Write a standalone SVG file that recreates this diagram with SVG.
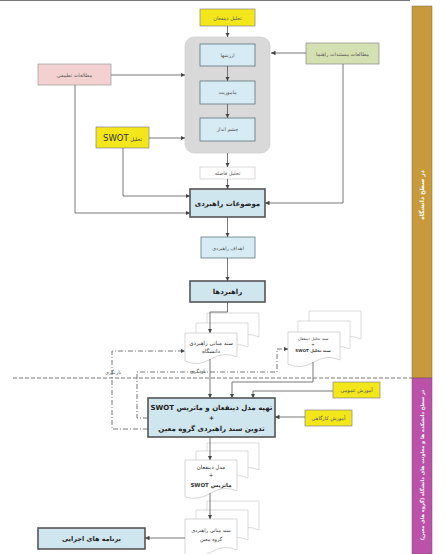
<svg xmlns="http://www.w3.org/2000/svg" width="445" height="554" viewBox="0 0 445 554">
<defs>
<marker id="ar" viewBox="0 0 6 6" refX="6" refY="3" markerWidth="4.5" markerHeight="4.5" orient="auto" markerUnits="userSpaceOnUse"><path d="M0,0 L6,3 L0,6 Z" fill="#444"/></marker>
<style>
text{font-family:"DejaVu Sans","Noto Sans",sans-serif;direction:rtl;text-anchor:middle;fill:#555;font-size:5px}
.b{font-weight:bold;fill:#222;font-size:7px}
.c{fill:none;stroke:#555;stroke-width:0.8}
.dd{fill:none;stroke:#555;stroke-width:0.8;stroke-dasharray:5 2 1 2}
.in{fill:#d6ebf3;stroke:#4d6670;stroke-width:0.7}
.mn{fill:#cfe6ef;stroke:#555;stroke-width:1.6}
.ye{fill:#f3e61a;stroke:#888;stroke-width:0.7}
.pg{fill:#fff;stroke:#ccc;stroke-width:0.7}
.pf{fill:#fff;stroke:#c4c4c4;stroke-width:0.7}
.w{fill:#fff;font-weight:bold;font-size:6px}
</style>
</defs>
<rect width="445" height="554" fill="#fff"/>
<line x1="0" y1="0.5" x2="410" y2="0.5" stroke="#777" stroke-width="1"/>

<g id="bands">
<rect x="412" y="6" width="20" height="372" fill="#c99a3b" stroke="#7a6a40" stroke-width="0.5"/>
<rect x="412" y="378" width="20" height="176" fill="#bb51a9" stroke="#7a4a70" stroke-width="0.5"/>
<text class="w" transform="translate(424,195) rotate(-90)">در سطح دانشگاه</text>
<text class="w" style="font-size:5px" transform="translate(424,465) rotate(-90)">در سطح دانشکده ها و معاونت های دانشگاه (گروه های معین)</text>
</g>

<line x1="13" y1="378" x2="412" y2="378" stroke="#555" stroke-width="0.8" stroke-dasharray="4 2"/>

<g id="n-container"><rect x="185" y="37" width="85" height="116" rx="9" fill="#d9d9d9" stroke="#cfcfcf" stroke-width="0.7"/></g>
<g id="n-stake"><rect class="ye" x="200" y="9" width="55" height="17"/><text x="227.5" y="19.5">تحلیل ذینفعان</text></g>
<g id="n-values"><rect class="in" x="200" y="44" width="55" height="22"/><text x="227.5" y="57">ارزشها</text></g>
<g id="n-mission"><rect class="in" x="200" y="81" width="55" height="23"/><text x="227.5" y="94">ماموریت</text></g>
<g id="n-vision"><rect class="in" x="200" y="118" width="55" height="23"/><text x="227.5" y="131">چشم انداز</text></g>
<g id="n-guide"><rect x="306" y="43" width="73" height="21" fill="#d5e0b2" stroke="#888" stroke-width="0.7"/><text x="342.5" y="55.5">مطالعات مستندات راهنما</text></g>
<g id="n-comp"><rect x="38" y="64" width="73" height="21" fill="#f3d1d1" stroke="#999" stroke-width="0.7"/><text x="74.5" y="76.5">مطالعات تطبیقی</text></g>
<g id="n-swot"><rect class="ye" x="96" y="127" width="53" height="21"/><text x="122.5" y="141" style="fill:#333"><tspan style="font-size:5px">تحلیل </tspan><tspan style="font-size:8.5px">SWOT</tspan></text></g>
<g id="n-gap"><rect x="200" y="167" width="55" height="12" fill="#fff" stroke="#ccc" stroke-width="0.7"/><text x="227.5" y="175">تحلیل فاصله</text></g>
<g id="n-topics"><rect class="mn" x="190" y="189" width="75" height="28"/><text class="b" x="227.5" y="206">موضوعات راهبردی</text></g>
<g id="n-goals"><rect class="in" x="201" y="237" width="54" height="21"/><text x="228" y="249.5">اهداف راهبردی</text></g>
<g id="n-strat"><rect class="mn" x="190" y="281" width="75" height="21"/><text class="b" x="227.5" y="294">راهبردها</text></g>

<g id="n-doc1">
<path class="pg" d="M207,313 H259 V337 Q246,331 233,339 T207,341 Z"/>
<path class="pg" d="M196,323 H248 V347 Q235,341 222,349 T196,351 Z"/>
<path class="pf" d="M185,333 H237 V357 Q224,351 211,359 T185,361 Z"/>
<text x="211" y="345" style="fill:#333;font-size:5.5px">سند مبانی راهبردی</text>
<text x="211" y="353" style="fill:#333;font-size:5.5px">دانشگاه</text>
</g>
<g id="n-doc2">
<path class="pg" d="M309,311 H361 V339 Q348,333 335,341 T309,343 Z"/>
<path class="pg" d="M298,321 H350 V349 Q337,343 324,351 T298,353 Z"/>
<path class="pf" d="M288,332 H340 V360 Q327,354 314,362 T288,364 Z"/>
<text x="313" y="340" style="fill:#333;font-size:4px">سند تحلیل ذینفعان</text>
<text x="313" y="345.5" style="fill:#333;font-size:4px">+</text>
<text x="313" y="352" style="fill:#333;font-size:4px;font-weight:bold">سند تحلیل SWOT</text>
</g>

<g id="n-gen"><rect x="333" y="382" width="47" height="16" fill="#f3e61a" stroke="#888" stroke-width="0.7"/><text x="356.5" y="392">آموزش عمومی</text></g>
<g id="n-work"><rect x="305" y="410" width="47" height="16" fill="#f3e61a" stroke="#888" stroke-width="0.7"/><text x="328.5" y="420">آموزش کارگاهی</text></g>
<g id="n-prep"><rect class="mn" x="148" y="398" width="127" height="39"/>
<text class="b" x="211.5" y="409.5">تهیه مدل ذینفعان و ماتریس SWOT</text>
<text class="b" x="211.5" y="419.5" style="font-size:6px">+</text>
<text class="b" x="211.5" y="431">تدوین سند راهبردی گروه معین</text></g>

<g id="n-doc3">
<path class="pg" d="M207,443 H259 V470 Q246,464 233,472 T207,474 Z"/>
<path class="pg" d="M196,451 H248 V478 Q235,472 222,480 T196,482 Z"/>
<path class="pf" d="M185,460 H237 V491 Q224,485 211,493 T185,497 Z"/>
<text x="211" y="469" style="fill:#333;font-size:5.5px">مدل ذینفعان</text>
<text x="211" y="477" style="fill:#333;font-size:5.5px">+</text>
<text x="211" y="487" style="fill:#333;font-size:5.5px;font-weight:bold">ماتریس SWOT</text>
</g>
<g id="n-doc4">
<path class="pg" d="M207,501 H259 V530 Q246,524 233,532 T207,534 Z"/>
<path class="pg" d="M196,510 H248 V540 Q235,534 222,542 T196,544 Z"/>
<path class="pf" d="M185,519 H237 V550 Q224,544 211,552 T185,556 Z"/>
<text x="211" y="532" style="fill:#333;font-size:5px">سند مبانی راهبردی</text>
<text x="211" y="541" style="fill:#333;font-size:5px">گروه معین</text>
</g>
<g id="n-prog"><rect class="mn" x="38" y="528" width="107" height="21"/><text class="b" x="91.5" y="541" style="font-size:6.5px">برنامه های اجرایی</text></g>

<g id="connectors">
<path class="c" marker-end="url(#ar)" d="M227.5,26 V37"/>
<path class="c" marker-end="url(#ar)" d="M227.5,66 V81"/>
<path class="c" marker-end="url(#ar)" d="M227.5,104 V118"/>
<path class="c" marker-end="url(#ar)" d="M306,53 H271"/>
<path class="c" marker-end="url(#ar)" d="M111,75 H185"/>
<path class="c" marker-end="url(#ar)" d="M149,138 H185"/>
<path class="c" marker-end="url(#ar)" d="M227.5,153 V167"/>
<path class="c" marker-end="url(#ar)" d="M227.5,179 V189"/>
<path class="c" marker-end="url(#ar)" d="M75,85 V213 H190"/>
<path class="c" marker-end="url(#ar)" d="M123,148 V196 H190"/>
<path class="c" marker-end="url(#ar)" d="M343,64 V203 H265"/>
<path class="c" marker-end="url(#ar)" d="M227.5,217 V237"/>
<path class="c" marker-end="url(#ar)" d="M227.5,258 V281"/>
<path class="c" marker-end="url(#ar)" d="M227.5,302 V312 H210 V333"/>
<path class="c" marker-end="url(#ar)" d="M210,359 V398"/>
<path class="c" marker-end="url(#ar)" d="M313,362 V382 H232 V398"/>
<path class="c" marker-end="url(#ar)" d="M333,391 H253 V398"/>
<path class="c" marker-end="url(#ar)" d="M305,417 H275"/>
<path class="c" marker-end="url(#ar)" d="M210,437 V460"/>
<path class="c" marker-end="url(#ar)" d="M210,493 V519"/>
<path class="c" marker-end="url(#ar)" d="M185,538 H145"/>
<path class="dd" marker-end="url(#ar)" d="M148,429 H112 V351 H185"/>
<path class="dd" marker-end="url(#ar)" d="M148,418 H137 V372 H277 V349 H288"/>
<text x="113" y="374">بازنگری</text>
<text x="198" y="373">بازنگری</text>
</g>
</svg>
